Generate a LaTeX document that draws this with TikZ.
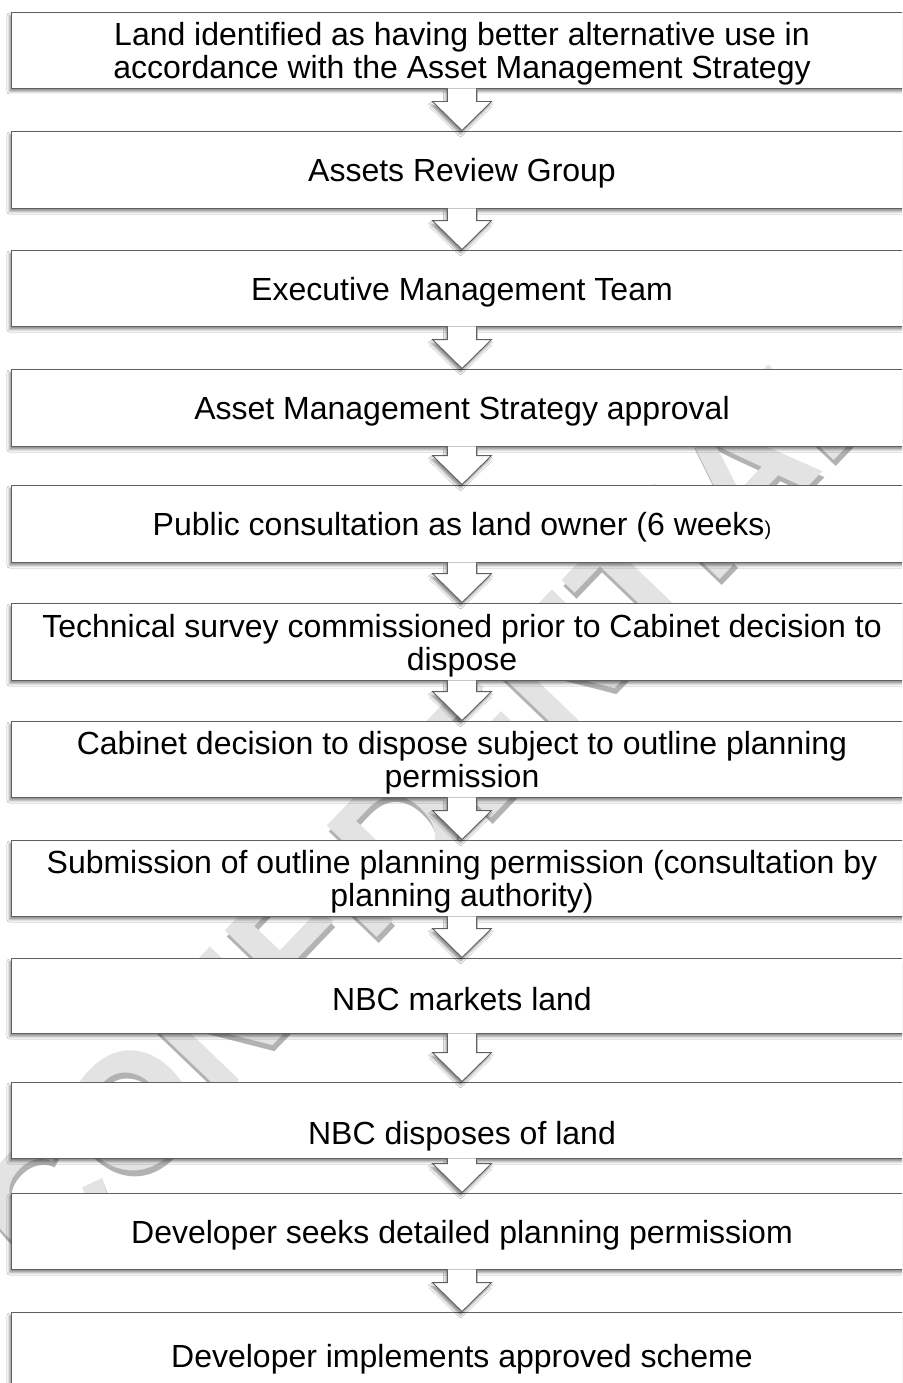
\documentclass[tikz,border=0pt]{standalone}
\usepackage{fontspec}
\setmainfont{Liberation Sans}
\usetikzlibrary{shadows,shadows.blur,calc}
\tikzset{
  stepbox/.style={draw=gray!75!black, fill=white, line width=0.9pt,
    minimum width=902pt, inner sep=0pt,
    blur shadow={shadow xshift=-1.5pt, shadow yshift=-3.5pt, shadow blur radius=2.5pt, shadow opacity=45}},
  steptext/.style={inner sep=0pt, align=center, font=\fontsize{32}{33}\selectfont},
  arrowfill/.style={fill=white,
    blur shadow={shadow xshift=-1.5pt, shadow yshift=-3.5pt, shadow blur radius=2.5pt, shadow opacity=45}},
  arrowline/.style={draw=gray!75!black, line width=0.9pt, line join=miter},
  watermark/.style={font=\fontsize{165}{165}\selectfont\bfseries, rotate=46.2, inner sep=0pt}
}
\newcommand{\blockarrow}[2]{%
  \path[arrowfill] let \p1=(#1.south), \p2=(#2.north) in
    (\x1-14.5pt,\y1) -- (\x1-14.5pt,\y2+29pt) -- (\x1-29.5pt,\y2+29pt) -- (\x1,\y2)
    -- (\x1+29.5pt,\y2+29pt) -- (\x1+14.5pt,\y2+29pt) -- (\x1+14.5pt,\y1) -- cycle;
  \path[arrowline] let \p1=(#1.south), \p2=(#2.north) in
    (\x1-14.5pt,\y1) -- (\x1-14.5pt,\y2+29pt) -- (\x1-29.5pt,\y2+29pt) -- (\x1,\y2)
    -- (\x1+29.5pt,\y2+29pt) -- (\x1+14.5pt,\y2+29pt) -- (\x1+14.5pt,\y1);
}
\begin{document}
\begin{tikzpicture}[x=1pt,y=-1pt]
\useasboundingbox (0,0) rectangle (902,1383);
\clip (0,0) rectangle (902,1383);
\fill[white] (0,0) rectangle (902,1383);
\node[watermark, text=gray!60] (wmshade) at (432,806) {CONFIDENTIAL};
\node[watermark, text=gray!22] (wm) at (430,800) {CONFIDENTIAL};

\node[stepbox, minimum height=76pt] (b1) at (462,50) {};
\node[steptext] (t1) at (462,54) {Land identified as having better alternative use in\\accordance with the Asset Management Strategy};
\node[stepbox, minimum height=77pt] (b2) at (462,169.5) {};
\node[steptext] (t2) at (462,173.5) {Assets Review Group};
\node[stepbox, minimum height=76pt] (b3) at (462,288) {};
\node[steptext] (t3) at (462,292) {Executive Management Team};
\node[stepbox, minimum height=77pt] (b4) at (462,407.5) {};
\node[steptext] (t4) at (462,411.5) {Asset Management Strategy approval};
\node[stepbox, minimum height=77pt] (b5) at (462,523.5) {};
\node[steptext] (t5) at (462,527.5) {Public consultation as land owner (6 weeks{\fontsize{20}{20}\selectfont)}};
\node[stepbox, minimum height=77pt] (b6) at (462,641.5) {};
\node[steptext] (t6) at (462,646) {Technical survey commissioned prior to Cabinet decision to\\dispose};
\node[stepbox, minimum height=76pt] (b7) at (462,759) {};
\node[steptext] (t7) at (462,763) {Cabinet decision to dispose subject to outline planning\\permission};
\node[stepbox, minimum height=76pt] (b8) at (462,878) {};
\node[steptext] (t8) at (462,882) {Submission of outline planning permission (consultation by\\planning authority)};
\node[stepbox, minimum height=75pt] (b9) at (462,995.5) {};
\node[steptext] (t9) at (462,999.5) {NBC markets land};
\node[stepbox, minimum height=76pt] (b10) at (462,1120) {};
\node[steptext] (t10) at (462,1136) {NBC disposes of land};
\node[stepbox, minimum height=76pt] (b11) at (462,1231) {};
\node[steptext] (t11) at (462,1235) {Developer seeks detailed planning permissiom};
\node[stepbox, minimum height=86pt] (b12) at (462,1355) {};
\node[steptext] (t12) at (462,1359) {Developer implements approved scheme};

\blockarrow{b1}{b2}
\blockarrow{b2}{b3}
\blockarrow{b3}{b4}
\blockarrow{b4}{b5}
\blockarrow{b5}{b6}
\blockarrow{b6}{b7}
\blockarrow{b7}{b8}
\blockarrow{b8}{b9}
\blockarrow{b9}{b10}
\blockarrow{b10}{b11}
\blockarrow{b11}{b12}
\end{tikzpicture}
\end{document}
